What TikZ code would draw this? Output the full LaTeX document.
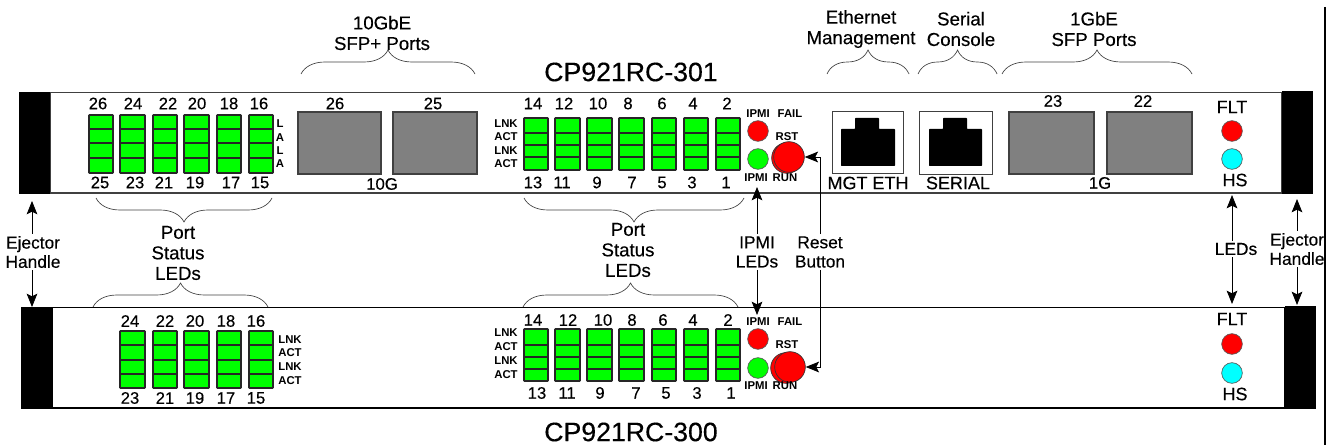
\documentclass[tikz,border=0pt]{standalone}
\usepackage{fontspec}
\setmainfont{Liberation Sans}[UprightFeatures={FakeBold=0.3}]
\usepackage{xcolor}
\usetikzlibrary{
  arrows.meta,
  decorations.pathreplacing
}
\definecolor{cpGreen}{HTML}{00FF00}
\definecolor{cpRed}{HTML}{FF0000}
\definecolor{cpCyan}{HTML}{00FFFF}
\definecolor{cpCage}{HTML}{808080}
\definecolor{cpEdge}{HTML}{404040}
\tikzset{
  panel/.style={draw=black, line width=0.8pt},
  handle/.style={fill=black},
  ledbar/.style={draw=black!85, line width=1.3pt, fill=cpGreen, rounded corners=0.5pt},
  ledrow/.style={draw=black!85, line width=0.8pt},
  cage/.style={draw=cpEdge, line width=0.8pt, fill=cpCage},
  jackbox/.style={draw=cpEdge, line width=0.7pt, fill=white},
  jack/.style={fill=black, rounded corners=0.5pt},
  led/.style={circle, draw=black!65, line width=0.5pt, minimum size=15.5pt, inner sep=0pt},
  rstbtn/.style={circle, draw=black!80, line width=0.5pt, fill=cpRed, minimum size=23pt, inner sep=0pt},
  numlabel/.style={font=\fontsize{12.5}{14}\selectfont, inner sep=0pt},
  tinylabel/.style={font=\fontsize{8.5}{10}\selectfont\bfseries, inner sep=0pt},
  biglabel/.style={font=\fontsize{13.5}{15}\selectfont, inner sep=0pt},
  headlabel/.style={font=\fontsize{14}{15.4}\selectfont, align=center, inner sep=1.5pt},
  calloutlabel/.style={font=\fontsize{13}{14.4}\selectfont, align=center, inner sep=1.5pt},
  title/.style={font=\fontsize{20}{22}\selectfont, inner sep=0pt},
  brace/.style={decorate, decoration={brace, amplitude=18pt}, draw=black!75, line width=0.5pt},
  bracedown/.style={decorate, decoration={brace, mirror, amplitude=18pt}, draw=black!75, line width=0.5pt},
  callout/.style={-{Stealth[length=10pt, width=8pt, inset=2pt]}, draw=black, line width=0.6pt}
}
\def\midbars{524/548,555/580,587/612,619/644,652/676,684/708,716/740}
\begin{document}
\begin{tikzpicture}[x=0.75pt, y=-0.75pt]
  \useasboundingbox (0,0) rectangle (1333,445);
  \draw[line width=0.8pt] (1325,7) -- (1325,445);

  \draw[panel, draw=cpEdge] (50,92.5) rectangle (1282,193);
  \fill[handle] (19,92) rectangle (50,194);
  \fill[handle] (1282,91) rectangle (1313,194);
  \draw[panel] (52,307.5) rectangle (1285,408);
  \fill[handle] (21,307) rectangle (52,409);
  \fill[handle] (1285,306) rectangle (1316,409);

  \node[title] (titleTop) at (631,72) {CP921RC-301};
  \node[title] (titleBot) at (631,432) {CP921RC-300};

  \node[headlabel] (lblSfpTen) at (382,33) {10GbE\\SFP+ Ports};
  \node[headlabel] (lblMgmt) at (861,29) {Ethernet\\Management};
  \node[headlabel] (lblSerial) at (961,29) {Serial\\Console};
  \node[headlabel] (lblSfpOne) at (1094,29) {1GbE\\SFP Ports};
  \draw[brace] (301,74) -- (475,74);
  \draw[brace] (827,74) -- (909,74);
  \draw[brace] (918,74) -- (997,74);
  \draw[brace] (1002,74) -- (1192,74);
  \draw[bracedown] (96,198) -- (272,198);
  \draw[bracedown] (524,198) -- (744,198);
  \draw[brace] (93,307) -- (268,307);
  \draw[brace] (523,307) -- (738,307);
  \node[headlabel] (lblPortA) at (178,253) {Port\\Status\\LEDs};
  \node[headlabel] (lblPortB) at (628,250) {Port\\Status\\LEDs};

  % top card
  \foreach \a/\b in {89/113,120/145,153/177,184/209,217/241,249/273} {
    \draw[ledbar] (\a,115) rectangle (\b,173);
    \foreach \r in {129,143,158} \draw[ledrow] (\a,\r) -- (\b,\r);
  }
  \foreach \a/\b in \midbars {
    \draw[ledbar] (\a,118) rectangle (\b,170);
    \foreach \r in {133,145,157} \draw[ledrow] (\a,\r) -- (\b,\r);
  }
  \foreach \x/\t in {98/26,133/24,168/22,197/20,229/18,259/16,335/26,433/25,533/14,564/12,598/10,628/8,662/6,693/4,727/2}
    \node[numlabel] (topUp\x) at (\x,103.5) {\t};
  \foreach \x/\t in {100/25,135/23,164/21,195/19,231/17,260/15,533/13,562/11,597/9,632/7,662/5,692/3,726/1}
    \node[numlabel] (topDn\x) at (\x,182.5) {\t};
  \foreach \y/\t in {124/L,138/A,151/L,164/A}
    \node[tinylabel] (topLa\y) at (280,\y) {\t};
  \foreach \y/\t in {124/LNK,137/ACT,151/LNK,164/ACT}
    \node[tinylabel] (topLnk\y) at (506,\y) {\t};
  \draw[cage] (298,112) rectangle (381,174);
  \draw[cage] (393,112) rectangle (477,174);
  \draw[cage] (1009,112) rectangle (1094,174);
  \draw[cage] (1107,112) rectangle (1192,174);
  \node[numlabel] (lblTenG) at (382,184) {10G};
  \node[numlabel] (lblPortW) at (1053,101) {23};
  \node[numlabel] (lblPortV) at (1143,101) {22};
  \node[numlabel] (lblOneG) at (1100,183) {1G};
  \draw[jackbox] (832,111) rectangle (903,173);
  \fill[jack] (841,166) -- (841,129) -- (855,129) -- (855,118) -- (879,118) -- (879,129) -- (895,129) -- (895,166) -- cycle;
  \draw[jackbox] (919,111) rectangle (992,174);
  \fill[jack] (929,166) -- (929,129) -- (943,129) -- (943,118) -- (967,118) -- (967,129) -- (982,129) -- (982,166) -- cycle;
  \node[biglabel] (lblMgt) at (868,183) {MGT ETH};
  \node[biglabel] (lblSer) at (958,183) {SERIAL};
  \node[tinylabel] (ipmiA) at (758,114) {IPMI};
  \node[tinylabel] (failA) at (790,114) {FAIL};
  \node[led, fill=cpRed] (redA) at (758,131) {};
  \node[led, fill=cpGreen] (grnA) at (758,159) {};
  \node[tinylabel] (rstA) at (787,137) {RST};
  \node[rstbtn] at (787,158) (btnShadeA) {};
  \node[rstbtn] (btnA) at (789,157) {};
  \node[tinylabel] (ipmiB) at (756,178) {IPMI};
  \node[tinylabel] (runA) at (785,178) {RUN};
  \node[biglabel] (fltA) at (1232,107) {FLT};
  \node[led, fill=cpRed] (fltLedA) at (1232,131) {};
  \node[led, fill=cpCyan] (hsLedA) at (1232,159) {};
  \node[biglabel] (hsA) at (1235,180) {HS};

  % bottom card
  \foreach \a/\b in {120/145,153/177,184/209,217/241,249/273} {
    \draw[ledbar] (\a,331) rectangle (\b,388);
    \foreach \r in {345,360,374} \draw[ledrow] (\a,\r) -- (\b,\r);
  }
  \foreach \a/\b in \midbars {
    \draw[ledbar] (\a,329) rectangle (\b,381);
    \foreach \r in {345,357,369} \draw[ledrow] (\a,\r) -- (\b,\r);
  }
  \foreach \x/\t in {130/24,165/22,195/20,226/18,256/16}
    \node[numlabel] (botUp\x) at (\x,321) {\t};
  \foreach \x/\t in {130/23,165/21,195/19,226/17,256/15}
    \node[numlabel] (botDn\x) at (\x,398) {\t};
  \foreach \x/\t in {533/14,568/12,603/10,632/8,663/6,693/4,728/2}
    \node[numlabel] (midUp\x) at (\x,320) {\t};
  \foreach \x/\t in {537/13,567/11,600/9,636/7,666/5,697/3,731/1}
    \node[numlabel] (midDn\x) at (\x,393) {\t};
  \foreach \y/\t in {340/LNK,353/ACT,367/LNK,381/ACT}
    \node[tinylabel] (botLnk\y) at (290,\y) {\t};
  \foreach \y/\t in {333/LNK,347/ACT,361/LNK,375/ACT}
    \node[tinylabel] (midLnk\y) at (506,\y) {\t};
  \node[tinylabel] (ipmiC) at (758,322) {IPMI};
  \node[tinylabel] (failC) at (790,322) {FAIL};
  \node[led, fill=cpRed] (redC) at (758,339) {};
  \node[led, fill=cpGreen] (grnC) at (758,368) {};
  \node[tinylabel] (rstC) at (787,345) {RST};
  \node[rstbtn] (btnShadeC) at (786,368) {};
  \node[rstbtn] (btnC) at (790,367) {};
  \node[tinylabel] (ipmiD) at (756,386) {IPMI};
  \node[tinylabel] (runC) at (785,386) {RUN};
  \node[biglabel] (fltC) at (1232,319) {FLT};
  \node[led, fill=cpRed] (fltLedC) at (1232,344) {};
  \node[led, fill=cpCyan] (hsLedC) at (1232,373) {};
  \node[biglabel] (hsC) at (1235,394) {HS};

  % callouts between the cards
  \node[calloutlabel] (lblEjectL) at (33,252) {Ejector\\Handle};
  \node[calloutlabel] (lblEjectR) at (1297,249) {Ejector\\Handle};
  \node[calloutlabel] (lblIpmi) at (757,252) {IPMI\\LEDs};
  \node[calloutlabel] (lblReset) at (820,252) {Reset\\Button};
  \node[calloutlabel] (lblLeds) at (1236,249) {LEDs};
  \coordinate (ejectLT) at (32,201);
  \coordinate (ejectLB) at (32,307);
  \coordinate (ejectRT) at (1297,199);
  \coordinate (ejectRB) at (1297,305);
  \coordinate (ipmiT) at (757,187);
  \coordinate (ipmiB) at (757,315);
  \coordinate (ledsT) at (1232,195);
  \coordinate (ledsB) at (1232,304);
  \draw[callout] (lblEjectL.north -| ejectLT) -- (ejectLT);
  \draw[callout] (lblEjectL.south -| ejectLB) -- (ejectLB);
  \draw[callout] (lblEjectR.north) -- (ejectRT);
  \draw[callout] (lblEjectR.south) -- (ejectRB);
  \draw[callout] (lblIpmi.north) -- (ipmiT);
  \draw[callout] (lblIpmi.south) -- (ipmiB);
  \draw[callout] (lblReset.north) |- (btnA);
  \draw[callout] (lblReset.south) |- (btnC);
  \draw[callout] (lblLeds.north -| ledsT) -- (ledsT);
  \draw[callout] (lblLeds.south -| ledsB) -- (ledsB);
\end{tikzpicture}
\end{document}
